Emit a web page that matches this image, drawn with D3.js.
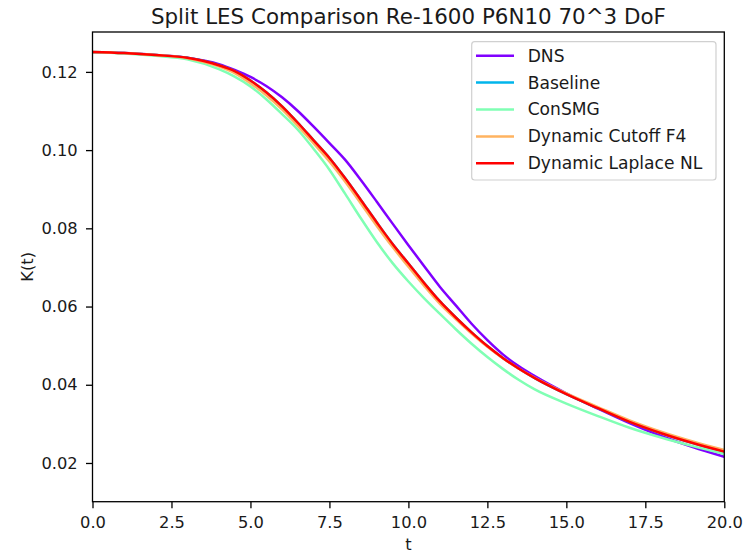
<!DOCTYPE html>
<html>
<head>
<meta charset="utf-8">
<script src="https://cdn.jsdelivr.net/npm/d3@7"></script>
<style>
  body { margin: 0; background: #fff; }
  text { font-family: "DejaVu Sans", sans-serif; }
</style>
</head>
<body>
<div id="chart"></div>
<script>
// time samples
var tValues = [0, 1, 2, 3, 4, 4.5, 5, 5.5, 6, 6.5, 7, 7.5, 8, 8.5, 9, 9.5, 10, 10.5, 11, 11.5, 12, 12.5, 13, 13.5, 14, 15, 16, 17, 18, 19, 20];

// K(t) for each run
var dnsK = [0.1250, 0.1248, 0.1243, 0.1236, 0.1220, 0.1205, 0.1187, 0.1164, 0.1135, 0.1100, 0.1060, 0.1018, 0.0975, 0.0923, 0.0868, 0.0812, 0.0757, 0.0703, 0.0650, 0.0603, 0.0556, 0.0514, 0.0477, 0.0447, 0.0422, 0.0378, 0.0339, 0.0302, 0.0269, 0.0241, 0.0216];
var baselineK = [0.1251, 0.1248, 0.1243, 0.1236, 0.1217, 0.1202, 0.1178, 0.1148, 0.1112, 0.1070, 0.1025, 0.0980, 0.0928, 0.0872, 0.0815, 0.0760, 0.0710, 0.0660, 0.0613, 0.0572, 0.0534, 0.0499, 0.0468, 0.0441, 0.0417, 0.0376, 0.0340, 0.0305, 0.0276, 0.0251, 0.0229];
var conSmgK = [0.1250, 0.1247, 0.1241, 0.1232, 0.1207, 0.1188, 0.1163, 0.1130, 0.1092, 0.1052, 0.1003, 0.0950, 0.0888, 0.0825, 0.0765, 0.0711, 0.0664, 0.0621, 0.0581, 0.0542, 0.0505, 0.0471, 0.0440, 0.0412, 0.0388, 0.0352, 0.0320, 0.0290, 0.0265, 0.0243, 0.0223];
var cutoffK = [0.1251, 0.1248, 0.1243, 0.1235, 0.1214, 0.1197, 0.1171, 0.1140, 0.1104, 0.1062, 0.1017, 0.0971, 0.0919, 0.0863, 0.0806, 0.0752, 0.0702, 0.0653, 0.0607, 0.0568, 0.0531, 0.0497, 0.0467, 0.0441, 0.0418, 0.0378, 0.0343, 0.0309, 0.0280, 0.0255, 0.0233];
var laplaceK = [0.1251, 0.1248, 0.1243, 0.1236, 0.1217, 0.1202, 0.1178, 0.1148, 0.1112, 0.1070, 0.1025, 0.0980, 0.0928, 0.0872, 0.0815, 0.0760, 0.0710, 0.0660, 0.0613, 0.0572, 0.0534, 0.0499, 0.0468, 0.0441, 0.0417, 0.0376, 0.0340, 0.0305, 0.0276, 0.0251, 0.0229];

var seriesNames = ["DNS", "Baseline", "ConSMG", "Dynamic Cutoff F4", "Dynamic Laplace NL"];
var seriesColors = ["#8000ff", "#00b5eb", "#80ffb4", "#ffb360", "#ff0000"];
var seriesValues = [dnsK, baselineK, conSmgK, cutoffK, laplaceK];

var xTicks = [0, 2.5, 5, 7.5, 10, 12.5, 15, 17.5, 20];
var yTicks = [0.02, 0.04, 0.06, 0.08, 0.10, 0.12];

var svgWidth = 750;
var svgHeight = 555;

var margin = {top: 32, right: 26, bottom: 53, left: 92.5};
var width = 724.3 - margin.left;
var height = 501.7 - margin.top;

var svg = d3.select("#chart")
  .append("svg")
  .attr("width", svgWidth)
  .attr("height", svgHeight);

var chartGroup = svg.append("g")
  .attr("transform", `translate(${margin.left}, ${margin.top})`);

var xScale = d3.scaleLinear().domain([0, 20]).range([0, width]);
var yScale = d3.scaleLinear().domain([0.0101, 0.1302]).range([height, 0]);

// axes
var xAxis = chartGroup.append("g")
  .attr("transform", `translate(0, ${height})`)
  .call(d3.axisBottom(xScale).tickValues(xTicks).tickFormat(d3.format(".1f")).tickSize(6.5).tickPadding(8.2));

var yAxis = chartGroup.append("g")
  .call(d3.axisLeft(yScale).tickValues(yTicks).tickFormat(d3.format(".2f")).tickSize(6.5).tickPadding(8.3));

[xAxis, yAxis].forEach(function(ax) {
  ax.select(".domain").remove();
  ax.selectAll("line").attr("stroke", "#000").attr("stroke-width", 1.3);
  ax.selectAll("text").attr("font-size", "16.3px").attr("fill", "#1a1a1a")
    .style("font-family", "'DejaVu Sans', sans-serif");
});

// lines
var line = d3.line()
  .x(function(d) { return xScale(d[0]); })
  .y(function(d) { return yScale(d[1]); })
  .curve(d3.curveMonotoneX);

chartGroup.append("clipPath").attr("id", "plotclip")
  .append("rect").attr("width", width).attr("height", height);

var linesGroup = chartGroup.append("g").attr("clip-path", "url(#plotclip)");

seriesValues.forEach(function(vals, i) {
  var pts = tValues.map(function(t, j) { return [t, vals[j]]; });
  linesGroup.append("path")
    .datum(pts)
    .attr("fill", "none")
    .attr("stroke", seriesColors[i])
    .attr("stroke-width", 2.5)
    .attr("d", line);
});

// frame
chartGroup.append("rect")
  .attr("width", width)
  .attr("height", height)
  .attr("fill", "none")
  .attr("stroke", "#000")
  .attr("stroke-width", 1.3);

// title and axis labels
svg.append("text")
  .attr("x", margin.left + width / 2)
  .attr("y", 24)
  .attr("text-anchor", "middle")
  .attr("font-size", "21.4px")
  .attr("fill", "#1a1a1a")
  .text("Split LES Comparison Re-1600 P6N10 70^3 DoF");

svg.append("text")
  .attr("x", margin.left + width / 2)
  .attr("y", 550)
  .attr("text-anchor", "middle")
  .attr("font-size", "16.3px")
  .attr("fill", "#1a1a1a")
  .text("t");

svg.append("text")
  .attr("transform", `translate(33, ${margin.top + height / 2}) rotate(-90)`)
  .attr("text-anchor", "middle")
  .attr("font-size", "16.3px")
  .attr("fill", "#1a1a1a")
  .text("K(t)");

// legend
var legend = svg.append("g");
legend.append("rect")
  .attr("x", 471.7)
  .attr("y", 41.7)
  .attr("width", 244.3)
  .attr("height", 138.3)
  .attr("rx", 3)
  .attr("fill", "#fff")
  .attr("fill-opacity", 0.8)
  .attr("stroke", "#d0d0d0")
  .attr("stroke-width", 1.2);

seriesNames.forEach(function(name, i) {
  var y = 55.7 + i * 26.9;
  legend.append("line")
    .attr("x1", 476).attr("x2", 514)
    .attr("y1", y).attr("y2", y)
    .attr("stroke", seriesColors[i])
    .attr("stroke-width", 2.5);
  legend.append("text")
    .attr("x", 527.7)
    .attr("y", y)
    .attr("dy", "0.35em")
    .attr("font-size", "17.1px")
    .attr("fill", "#1a1a1a")
    .text(name);
});
</script>
</body>
</html>
